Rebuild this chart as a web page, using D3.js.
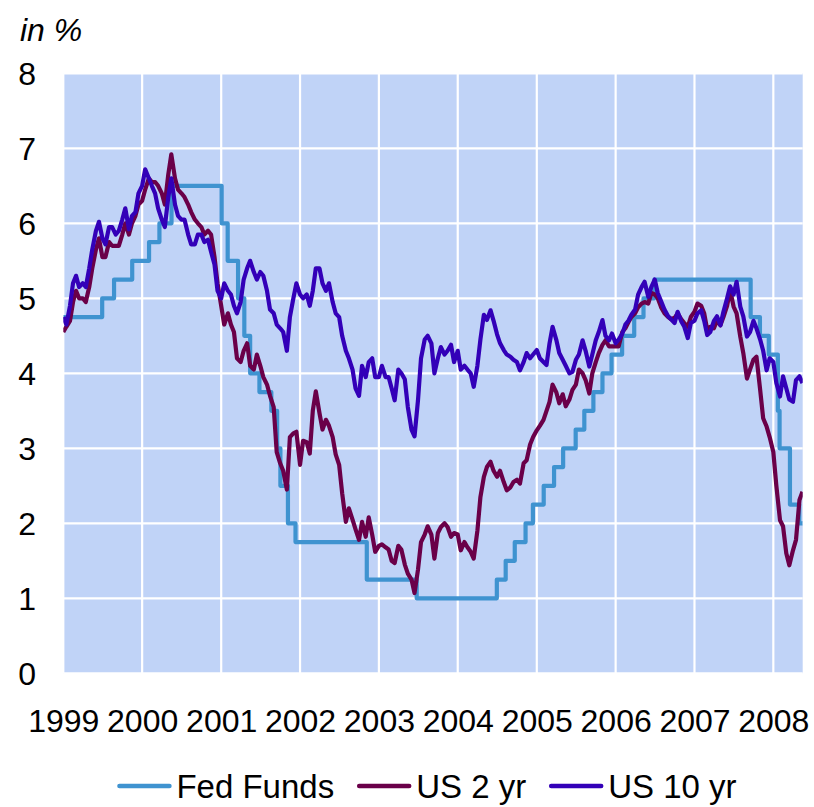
<!DOCTYPE html>
<html><head><meta charset="utf-8">
<script src="https://cdn.jsdelivr.net/npm/d3@7"></script>
<style>
html,body{margin:0;padding:0;background:#fff;}
svg{display:block;font-family:"Liberation Sans",Arial,sans-serif;}
</style></head>
<body><svg id="c" width="814" height="807"></svg>
<script>
// ---- data (semi-monthly observations: 1st and 15th of each month) ----
const startDate = "1999-01-01";
const endDate = "2008-05-16";
const yearTicks = [1999,2000,2001,2002,2003,2004,2005,2006,2007,2008];
const yTicks = [0,1,2,3,4,5,6,7,8];
const seriesNames = ["Fed Funds","US 2 yr","US 10 yr"];

const us10yr = [
 4.75,4.65,4.90,5.20,5.30,5.15,5.20,5.15,5.40,5.65,5.90,6.02,5.80,5.72,5.95,5.95,5.85,5.90,6.05,6.20,5.92,6.10,6.15,6.40,
 6.50,6.72,6.60,6.50,6.40,6.20,6.05,5.95,6.35,6.60,6.25,6.10,6.05,6.05,5.85,5.72,5.72,5.85,5.85,5.75,5.78,5.62,5.45,5.10,
 5.00,5.20,5.10,5.05,4.90,4.80,4.95,5.25,5.40,5.50,5.35,5.25,5.35,5.30,5.10,4.85,4.80,4.65,4.60,4.55,4.30,4.75,5.00,5.20,
 5.05,5.00,5.05,4.90,5.10,5.40,5.40,5.20,5.10,5.20,4.95,4.80,4.75,4.50,4.30,4.20,4.05,3.80,3.70,4.10,3.95,4.15,4.20,3.95,
 3.95,4.10,3.95,3.95,3.80,3.64,4.05,4.00,3.92,3.55,3.25,3.16,3.64,4.20,4.45,4.50,4.40,4.00,4.20,4.35,4.25,4.30,4.38,4.15,
 4.30,4.05,4.10,4.05,4.00,3.82,4.10,4.45,4.78,4.71,4.84,4.70,4.52,4.40,4.31,4.25,4.22,4.18,4.15,4.04,4.15,4.27,4.20,4.25,
 4.31,4.20,4.15,4.11,4.40,4.62,4.45,4.27,4.18,4.10,4.00,4.02,4.18,4.25,4.44,4.30,4.09,4.25,4.44,4.55,4.71,4.50,4.44,4.53,
 4.40,4.45,4.53,4.65,4.70,4.78,4.85,5.05,5.15,5.22,5.02,5.15,5.25,5.07,4.95,4.85,4.76,4.72,4.67,4.82,4.69,4.62,4.47,4.67,
 4.70,4.80,4.84,4.70,4.51,4.55,4.70,4.76,4.64,4.82,5.00,5.16,5.05,5.22,4.89,4.76,4.49,4.55,4.70,4.60,4.45,4.30,4.04,4.20,
 4.15,3.87,3.69,3.96,3.80,3.65,3.62,3.91,3.96,3.87
];
const us2yr = [
 4.55,4.62,4.70,4.95,5.10,5.00,5.00,4.95,5.15,5.40,5.65,5.80,5.55,5.55,5.75,5.70,5.70,5.70,5.85,6.00,5.85,6.00,6.10,6.25,
 6.30,6.45,6.60,6.55,6.55,6.50,6.40,6.25,6.65,6.92,6.60,6.45,6.40,6.35,6.25,6.15,6.05,6.00,5.95,5.85,5.90,5.85,5.55,5.20,
 4.90,4.65,4.80,4.65,4.55,4.20,4.15,4.30,4.40,4.10,4.05,4.25,4.10,3.95,3.85,3.70,3.55,2.95,2.80,2.70,2.45,3.15,3.20,3.22,
 2.78,3.10,3.08,2.93,3.50,3.76,3.47,3.25,3.38,3.30,3.15,2.92,2.78,2.40,2.02,2.20,2.05,1.92,1.78,2.02,1.82,2.08,1.85,1.62,
 1.70,1.72,1.68,1.65,1.50,1.47,1.70,1.65,1.45,1.33,1.25,1.07,1.38,1.75,1.85,1.96,1.85,1.53,1.87,1.95,2.00,1.95,1.82,1.87,
 1.85,1.64,1.75,1.68,1.62,1.53,1.90,2.35,2.62,2.75,2.82,2.70,2.62,2.70,2.55,2.44,2.48,2.55,2.58,2.53,2.80,2.84,3.05,3.15,
 3.24,3.30,3.38,3.50,3.62,3.85,3.75,3.60,3.72,3.56,3.65,3.78,3.85,4.05,4.00,3.91,3.73,4.00,4.15,4.27,4.38,4.44,4.36,4.36,
 4.36,4.36,4.55,4.60,4.68,4.75,4.80,4.88,4.93,4.95,4.93,5.07,5.05,5.00,4.87,4.80,4.75,4.72,4.74,4.80,4.72,4.67,4.62,4.75,
 4.82,4.93,4.90,4.80,4.58,4.62,4.60,4.70,4.64,4.75,4.90,5.11,4.89,4.80,4.49,4.27,3.93,4.05,4.18,4.22,3.78,3.40,3.29,3.15,
 2.95,2.50,2.04,1.96,1.60,1.44,1.64,1.78,2.31,2.42
];
// Fed Funds target rate: date of change and new level
const ffDates = ["1999-01-01","1999-06-30","1999-08-24","1999-11-16","2000-02-02","2000-03-21","2000-05-16",
 "2001-01-03","2001-01-31","2001-03-20","2001-04-18","2001-05-15","2001-06-27","2001-08-21","2001-09-17",
 "2001-10-02","2001-11-06","2001-12-11","2002-11-06","2003-06-25","2004-06-30","2004-08-10","2004-09-21",
 "2004-11-10","2004-12-14","2005-02-02","2005-03-22","2005-05-03","2005-06-30","2005-08-09","2005-09-20",
 "2005-11-01","2005-12-13","2006-01-31","2006-03-28","2006-05-10","2006-06-29","2007-09-18","2007-10-31",
 "2007-12-11","2008-01-22","2008-01-30","2008-03-18","2008-04-30","2008-05-16"];
const ffRates = [4.75,5.00,5.25,5.50,5.75,6.00,6.50,
 6.00,5.50,5.00,4.50,4.00,3.75,3.50,3.00,
 2.50,2.00,1.75,1.25,1.00,1.25,1.50,1.75,
 2.00,2.25,2.50,2.75,3.00,3.25,3.50,3.75,
 4.00,4.25,4.50,4.75,5.00,5.25,4.75,4.50,
 4.25,3.50,3.00,2.25,2.00,2.00];

// ---- build ----
const parse = d3.timeParse("%Y-%m-%d");
const obsDates = [];
for (let y = 1999; y <= 2008; y++) {
  for (let m = 0; m < 12; m++) {
    for (const d of [1, 15]) {
      if (obsDates.length < us10yr.length) obsDates.push(new Date(y, m, d));
    }
  }
}
const s10 = obsDates.map((d,i)=>({date:d, v:us10yr[i]}));
const s2 = obsDates.map((d,i)=>({date:d, v:us2yr[i]}));
const sff = ffDates.map((d,i)=>({date:parse(d), v:ffRates[i]}));

const svg = d3.select("#c");
const L = 63.3, R = 802.7, T = 73.3, B = 673.3;
const x = d3.scaleTime().domain([parse(startDate), parse(endDate)]).range([L, R]);
const y = d3.scaleLinear().domain([0, 8]).range([B, T]);

const colors = {"Fed Funds":"#3f93d0","US 2 yr":"#6a0049","US 10 yr":"#3300b8"};

svg.append("rect").attr("x",L).attr("y",T).attr("width",R-L).attr("height",B-T).attr("fill","#c0d3f7");

const g = svg.append("g");
g.selectAll("line.h").data(yTicks).join("line").attr("class","h")
  .attr("x1",L).attr("x2",R).attr("y1",d=>y(d)).attr("y2",d=>y(d))
  .attr("stroke","#fff").attr("stroke-width",2.2);
g.selectAll("line.v").data(yearTicks).join("line").attr("class","v")
  .attr("x1",d=>x(new Date(d,0,1))).attr("x2",d=>x(new Date(d,0,1))).attr("y1",T).attr("y2",B)
  .attr("stroke","#fff").attr("stroke-width",2.2);

const yAxis = d3.axisLeft(y).tickValues(yTicks).tickSize(0).tickPadding(0).tickFormat(d3.format("d"));
const ya = svg.append("g").attr("transform","translate(36,0)").call(yAxis);
ya.select(".domain").remove();
ya.selectAll("text").attr("font-size",32).attr("fill","#000").attr("font-family","Liberation Sans, Arial, sans-serif").attr("dy","0.36em");

const xAxis = d3.axisBottom(x).tickValues(yearTicks.map(v=>new Date(v,0,1))).tickSize(0).tickPadding(0).tickFormat(d3.timeFormat("%Y"));
const xa = svg.append("g").attr("transform","translate(0,732)").call(xAxis);
xa.select(".domain").remove();
xa.selectAll("text").attr("font-size",32).attr("fill","#000").attr("font-family","Liberation Sans, Arial, sans-serif").attr("dy",0).attr("y",0);

const lineLin = d3.line().x(d=>x(d.date)).y(d=>y(d.v));
const lineStep = d3.line().x(d=>x(d.date)).y(d=>y(d.v)).curve(d3.curveStepAfter);
svg.append("clipPath").attr("id","clp").append("rect").attr("x",L).attr("y",T-10).attr("width",R-L).attr("height",B-T+20);
const lg = svg.append("g").attr("clip-path","url(#clp)");
const sw = 4.2;
lg.append("path").datum(sff).attr("d",lineStep).attr("fill","none").attr("stroke",colors["Fed Funds"]).attr("stroke-width",sw).attr("stroke-linejoin","round");
lg.append("path").datum(s2).attr("d",lineLin).attr("fill","none").attr("stroke",colors["US 2 yr"]).attr("stroke-width",sw).attr("stroke-linejoin","round");
lg.append("path").datum(s10).attr("d",lineLin).attr("fill","none").attr("stroke",colors["US 10 yr"]).attr("stroke-width",sw).attr("stroke-linejoin","round");

svg.append("text").attr("x",20).attr("y",41).attr("font-size",32).attr("font-style","italic").text("in %");

const leg = svg.append("g");
const items = seriesNames.map(n=>{
  const t = leg.append("text").attr("font-size",33).attr("y",798).text(n);
  return {n, t, w:t.node().getComputedTextLength()};
});
const lineLen = 50, gap = 7, sep = 25;
const total = items.reduce((a,it)=>a+lineLen+gap+it.w,0) + sep*(items.length-1);
let cx = 428 - total/2;
items.forEach(it=>{
  leg.append("line").attr("x1",cx).attr("x2",cx+lineLen).attr("y1",786).attr("y2",786)
    .attr("stroke",colors[it.n]).attr("stroke-width",4.5).attr("stroke-linecap","round");
  it.t.attr("x",cx+lineLen+gap);
  cx += lineLen+gap+it.w+sep;
});
</script></body></html>
